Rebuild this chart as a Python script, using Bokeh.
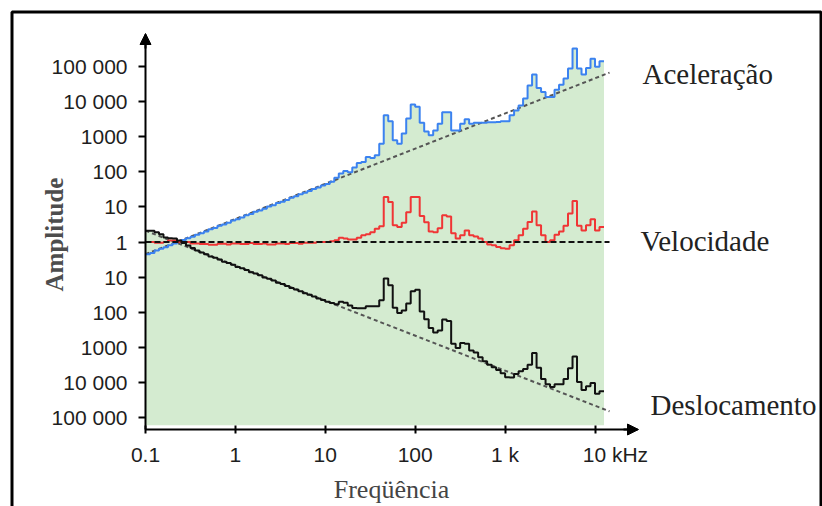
import numpy as np
from bokeh.plotting import figure
from bokeh.models import (Range1d, FixedTicker, Label, BoxAnnotation, Arrow,
                          NormalHead)
from bokeh.embed import file_html
from bokeh.resources import INLINE

# ---------------- data ----------------
# frequency bins: 1/20 decade wide, starting at 0.1 Hz (Hz)
bin_start_hz = 0.1
bins_per_decade = 20
n_bins = 102

# amplitudes per bin, as log10(amplitude)
acc_log = [-0.35, -0.31, -0.24, -0.19, -0.15, -0.09, -0.04, 0.00, 0.06, 0.11,
           0.15, 0.21, 0.25, 0.30, 0.36, 0.40, 0.46, 0.50, 0.55, 0.61,
           0.65, 0.70, 0.76, 0.80, 0.86, 0.90, 0.95, 1.01, 1.05, 1.11,
           1.15, 1.20, 1.26, 1.30, 1.36, 1.40, 1.45, 1.51, 1.55, 1.61,
           1.65, 1.72, 1.83, 1.95, 2.02, 1.99, 2.12, 2.25, 2.28, 2.42,
           2.39, 2.47, 2.80, 3.61, 3.44, 2.90, 2.80, 3.09, 3.52, 3.92,
           3.85, 3.40, 3.15, 3.04, 3.18, 3.37, 3.70, 3.70, 3.18, 3.18,
           3.37, 3.50, 3.37, 3.40, 3.40, 3.40, 3.41, 3.41, 3.42, 3.44,
           3.44, 3.61, 3.75, 3.89, 4.09, 4.46, 4.77, 4.39, 4.27, 4.13,
           4.13, 4.34, 4.48, 4.66, 4.94, 5.51, 4.94, 4.77, 4.96, 5.22,
           4.99, 5.15]

vel_log = [0.00, 0.00, -0.02, -0.02, 0.00, 0.04, 0.04, 0.00, 0.00, 0.00,
           -0.04, -0.04, -0.06, -0.06, -0.08, -0.08, -0.05, -0.05, -0.07, -0.04,
           -0.04, -0.06, -0.06, -0.03, -0.06, -0.06, -0.04, -0.07, -0.07, -0.04,
           -0.04, -0.06, -0.03, -0.03, -0.05, -0.02, -0.02, -0.02, 0.00, 0.00,
           0.00, 0.02, 0.05, 0.12, 0.10, 0.07, 0.07, 0.12, 0.19, 0.22,
           0.28, 0.38, 0.45, 1.28, 1.14, 0.48, 0.43, 0.55, 0.85, 1.28,
           1.28, 0.74, 0.56, 0.30, 0.28, 0.39, 0.76, 0.73, 0.25, 0.10,
           0.19, 0.33, 0.19, 0.16, 0.10, 0.00, -0.07, -0.09, -0.14, -0.18,
           -0.19, -0.09, 0.05, 0.19, 0.38, 0.57, 0.87, 0.48, 0.19, 0.00,
           0.05, 0.21, 0.30, 0.46, 0.81, 1.17, 0.46, 0.33, 0.48, 0.65,
           0.33, 0.43]

disp_log = [0.32, 0.32, 0.28, 0.22, 0.13, 0.11, 0.10, 0.04, -0.03, -0.10,
            -0.17, -0.24, -0.30, -0.35, -0.41, -0.45, -0.50, -0.56, -0.60, -0.65,
            -0.71, -0.75, -0.80, -0.86, -0.90, -0.95, -1.01, -1.05, -1.10, -1.16,
            -1.20, -1.25, -1.31, -1.35, -1.40, -1.46, -1.50, -1.55, -1.61, -1.65,
            -1.70, -1.74, -1.77, -1.70, -1.73, -1.81, -1.88, -1.89, -1.89, -1.83,
            -1.83, -1.83, -1.66, -1.04, -1.23, -1.87, -2.02, -1.95, -1.75, -1.40,
            -1.36, -1.98, -2.20, -2.45, -2.58, -2.52, -2.21, -2.25, -2.90, -3.02,
            -2.88, -2.90, -3.09, -3.15, -3.28, -3.40, -3.50, -3.57, -3.65, -3.74,
            -3.85, -3.86, -3.76, -3.68, -3.62, -3.50, -3.16, -3.58, -3.90, -4.05,
            -4.13, -4.05, -4.05, -3.90, -3.60, -3.26, -3.99, -4.22, -4.11, -4.02,
            -4.32, -4.25]

# dashed reference lines (two end points each)
ref_freq = [0.1, 14500.0]
acc_ref = [0.45, 67000.0]
vel_ref = [1.0, 1.0]
disp_ref = [2.1, 1.5e-5]
fill_floor = 6.0e-6

# axis ticks / labels
x_ticks = [0.1, 1.0, 10.0, 100.0, 1000.0, 10000.0]
x_tick_labels = ["0.1", "1", "10", "100", "1 k", "\u00a0" * 7 + "10 kHz"]
y_ticks = [1e5, 1e4, 1e3, 1e2, 1e1, 1.0, 1e-1, 1e-2, 1e-3, 1e-4, 1e-5]
y_tick_labels = ["100 000", "10 000", "1000", "100", "10", "1",
                 "10", "100", "1000", "10 000", "100 000"]

series_names = ["Aceleração", "Velocidade", "Deslocamento"]
x_title = "Freqüência"
y_title = "Amplitude"

# ---------------- layout constants (pixels) ----------------
W, H = 822, 506
AX_L, AX_R, AX_T, AX_B = 145, 637, 34, 429   # axis lines
PX_DEC_X, PX_DEC_Y, Y_ONE = 89.9, 35.1, 241.5


def fx(px):   # pixel column -> frequency
    return 10 ** (-1 + (px - AX_L) / PX_DEC_X)


def fy(py):   # pixel row -> amplitude
    return 10 ** ((Y_ONE - py) / PX_DEC_Y)


edges = bin_start_hz * 10 ** (np.arange(n_bins + 1) / bins_per_decade)
acc = 10 ** np.array(acc_log)
vel = 10 ** np.array(vel_log)
disp = 10 ** np.array(disp_log)
envelope = np.maximum(np.maximum(acc, vel), disp)


def ext(a):
    return np.append(a, a[-1])


p = figure(width=W, height=H, x_axis_type="log", y_axis_type="log",
           x_range=Range1d(fx(0), fx(W)), y_range=Range1d(fy(H), fy(0)),
           output_backend="svg", toolbar_location=None, title=None,
           min_border=0, min_border_left=0, min_border_right=0,
           min_border_top=0, min_border_bottom=0)
p.outline_line_color = None
p.background_fill_color = "white"
p.border_fill_color = "white"
p.xgrid.visible = False
p.ygrid.visible = False

# green area under the curves
p.varea_step(x=edges, y1=np.full(n_bins + 1, fill_floor), y2=ext(envelope),
             step_mode="after", fill_color="#d4ebd0", fill_alpha=1.0)

# reference lines
p.line(ref_freq, acc_ref, line_color="#555555", line_width=2, line_dash="4 3")
p.line(ref_freq, disp_ref, line_color="#555555", line_width=2, line_dash="4 3")

# series
p.step(edges, ext(acc), mode="after", line_color="#3b82f0", line_width=2)
p.step(edges, ext(vel), mode="after", line_color="#f03535", line_width=2)
p.line(ref_freq, vel_ref, line_color="#111111", line_width=2, line_dash="6 3")
p.step(edges, ext(disp), mode="after", line_color="#111111", line_width=2)

# axes, fixed inside the (full-canvas) frame
for ax in (p.xaxis[0], p.yaxis[0]):
    ax.axis_line_width = 2
    ax.axis_line_color = "black"
    ax.major_tick_line_width = 2
    ax.major_tick_line_color = "black"
    ax.minor_tick_line_color = None
    ax.major_label_text_font = "Liberation Sans"
    ax.major_label_text_font_size = "21px"
    ax.major_label_text_color = "#1e1e1e"

xa = p.xaxis[0]
xa.fixed_location = fy(AX_B)
xa.bounds = (fx(AX_L), fx(AX_R))
xa.ticker = FixedTicker(ticks=x_ticks, minor_ticks=[])
xa.major_label_overrides = dict(zip(x_ticks, x_tick_labels))
xa.major_tick_in = 4
xa.major_tick_out = 4
xa.major_label_standoff = 9
xa.axis_label = x_title
xa.axis_label_text_font = "Liberation Serif"
xa.axis_label_text_font_style = "normal"
xa.axis_label_text_font_size = "26px"
xa.axis_label_text_color = "#444444"
xa.axis_label_standoff = 6

ya = p.yaxis[0]
ya.fixed_location = fx(AX_L)
ya.bounds = (fy(AX_B), fy(AX_T))
ya.ticker = FixedTicker(ticks=y_ticks, minor_ticks=[])
ya.major_label_overrides = dict(zip(y_ticks, y_tick_labels))
ya.major_tick_in = 0
ya.major_tick_out = 7
ya.major_label_standoff = 11

# arrow heads on the axes (screen units: from left, from bottom)
head = dict(line_width=2, line_color="black", start_units="screen",
            end_units="screen")
p.add_layout(Arrow(x_start=AX_L, y_start=H - (AX_T + 14), x_end=AX_L,
                   y_end=H - (AX_T - 1),
                   end=NormalHead(size=11, fill_color="black",
                                  line_color="black"), **head))
p.add_layout(Arrow(x_start=AX_R - 14, y_start=H - AX_B, x_end=AX_R + 1,
                   y_end=H - AX_B,
                   end=NormalHead(size=11, fill_color="black",
                                  line_color="black"), **head))

# y title (rotated)
p.add_layout(Label(x=54, y=H - 234, x_units="screen", y_units="screen",
                   text=y_title, angle=np.pi / 2, text_align="center",
                   text_baseline="middle", text_font="Liberation Serif",
                   text_font_style="bold", text_font_size="25px",
                   text_color="#4d4d4d"))

# series names on the right
for name, (lx, ly) in zip(series_names, [(642, 73), (640, 240.5), (650, 404)]):
    p.add_layout(Label(x=lx, y=H - ly, x_units="screen", y_units="screen",
                       text=name, text_align="left", text_baseline="alphabetic",
                       text_font="Liberation Serif", text_font_size="29px",
                       text_color="#222222"))

# outer frame of the figure
p.add_layout(BoxAnnotation(left=11.5, right=820.5, top=H - 11.5, bottom=-30,
                           left_units="screen", right_units="screen",
                           top_units="screen", bottom_units="screen",
                           fill_color=None, fill_alpha=0.0,
                           line_color="black", line_alpha=1.0, line_width=3))

open("out.html", "w").write(file_html(p, INLINE))
